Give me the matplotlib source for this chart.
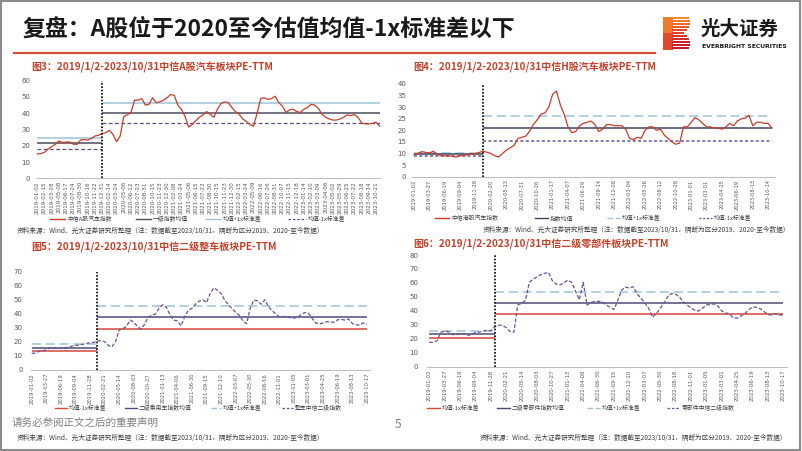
import numpy as np
import matplotlib
matplotlib.use("Agg")
import matplotlib.pyplot as plt
from matplotlib.lines import Line2D
from matplotlib.patches import Rectangle

plt.rcParams['font.family'] = ['Noto Sans CJK SC', 'DejaVu Sans']

# ---------------- DATA ----------------
# Chart 1: 中信A股汽车板块 PE-TTM (samples every half label interval)
c1_labels = ["2019-01-02","2019-02-15","2019-03-28","2019-05-08","2019-06-17","2019-07-24","2019-08-30","2019-10-16",
             "2019-11-22","2019-12-31","2020-02-14","2020-03-24","2020-05-06","2020-06-12","2020-07-23","2020-08-31",
             "2020-10-15","2020-11-23","2020-12-30","2021-02-08","2021-03-24","2021-05-06","2021-06-15","2021-07-22",
             "2021-08-30","2021-10-15","2021-11-23","2021-12-30","2022-02-15","2022-03-24","2022-05-09","2022-06-16",
             "2022-07-26","2022-08-31","2022-10-07","2022-11-15","2022-12-18","2023-01-14","2023-02-10","2023-03-09",
             "2023-04-06","2023-05-02","2023-05-29","2023-06-25","2023-07-22","2023-08-18","2023-09-14","2023-10-21"]
c1_v2019 = [15, 15.2, 16, 18, 19.5, 20.8, 23, 22, 22.3, 22.3, 21, 20.8, 23.5, 23.8, 23.5, 24.5, 26, 26.5]
c1_v2020 = [27.5, 28, 29.5, 27, 22.5, 26, 38, 39, 40.5, 48, 48, 49, 45, 45.5, 49.5, 46.5, 47, 48, 49.5, 51.5,
            51, 45, 42.5, 38, 31.5, 33, 35.5, 37.5, 39, 41, 39.3, 37.5, 42.5, 46, 47, 46.5, 43.5, 41, 39.5, 36.5,
            35, 33, 32, 40, 49, 49.5, 48.5, 49, 50.5, 46.5, 44.5, 40.5, 42, 42.5, 41, 40.5, 42.5, 43.5, 45.5, 45,
            43, 39.5, 37.5, 36.5, 35.8, 35.8, 36.5, 37.5, 39, 38.5, 39.3, 37.5, 34, 33.5, 33.4, 33.8, 34.5, 32]
c1_step = 0.5
c1_mean = [21.5, 40.3]
c1_up = [25.0, 46.5]
c1_dn = [18.2, 33.8]
c1_legend = ["中信A股汽车指数", "一级指数均值", "均值+1x标准差", "均值-1x标准差"]

# Chart 2: 中信H股汽车板块 PE-TTM (samples every quarter label interval)
c2_labels = ["2019-01-02","2019-03-27","2019-06-19","2019-09-04","2019-11-28","2020-02-20","2020-05-13","2020-07-31",
             "2020-10-26","2021-01-17","2021-04-07","2021-06-29","2021-09-14","2021-12-08","2022-03-04","2022-05-26",
             "2022-08-12","2022-10-28","2023-01-01","2023-03-01","2023-04-25","2023-06-19","2023-08-13","2023-10-14"]
c2_v2019 = [9.5, 10, 10.8, 10.5, 10.2, 11, 9.5, 9.2, 9, 9, 8.8, 8.5, 9, 9.3, 9.5, 9.8, 10, 10.5]
c2_v2020 = [11, 10.5, 10, 9, 8.5, 10, 11.5, 12.5, 13.5, 16.5, 17, 17.5, 19.5, 22.5, 24.5, 27, 27.5, 30, 35.5, 37,
            31, 27, 21.5, 19, 19.5, 22, 23, 23.5, 24, 22.5, 19.5, 20.5, 22.5, 22.5, 22, 22, 22, 20.5, 16.5, 16,
            17, 16.5, 20, 21.5, 21.5, 20, 20.5, 18, 16.5, 15, 14, 14.5, 21.5, 21.5, 23.5, 25.5, 24.5, 23, 21.5, 21.5,
            21, 21, 20.5, 21.5, 23, 22, 24, 25, 25.2, 26.5, 22, 23.5, 23.5, 23, 23, 21]
c2_step = 0.25
c2_mean = [9.6, 20.9]
c2_up = [10.3, 26.2]
c2_dn = [8.8, 15.4]
c2_legend = ["中信港股汽车指数", "指数均值", "均值+1x标准差", "均值-1x标准差"]

# Chart 3: 中信二级整车板块 PE-TTM
c3_labels = ["2019-01-02","2019-03-27","2019-06-19","2019-09-04","2019-11-28","2020-02-21","2020-05-14","2020-08-03",
             "2020-10-27","2021-01-13","2021-04-06","2021-06-30","2021-09-15","2021-12-10","2022-03-07","2022-05-30",
             "2022-08-16","2022-11-01","2023-01-05","2023-03-01","2023-04-25","2023-06-19","2023-08-13","2023-10-17"]
c3_v2019 = [11.9, 12, 13.3, 13.5, 14.5, 15.7, 15.4, 15.4, 15.5, 15.7, 16.2, 17, 17.5, 17.8, 18.3, 19, 19.3, 19.7]
c3_v2020 = [20.6, 21, 20.2, 17.5, 16.5, 20, 28.5, 29.4, 31, 35.5, 34.2, 31, 29.2, 32.5, 37.8, 38.8, 40, 44, 46.5, 44.5,
            39.2, 35.5, 35, 31.5, 38, 42.5, 44, 47, 49, 50, 48, 54.5, 58.5, 56.8, 54.5, 49.8, 46.5, 43.8, 41, 39,
            35, 33, 44, 49.8, 49.2, 46.8, 50, 45, 42.2, 40, 37.8, 38, 38.3, 37.3, 37, 37.5, 39.5, 41, 40.3, 36.8,
            33.5, 32.8, 33.5, 34.4, 34.2, 34, 35.8, 36, 35.6, 36.3, 33.2, 32.2, 32, 33.5, 32.5]
c3_step = 0.25
c3_dn = [13.5, 29.2]
c3_mean = [15.9, 37.5]
c3_up = [18.5, 45.8]
c3_legend = ["均值-1x标准差", "二级乘用车指数均值", "均值+1x标准差", "整车中信二级指数"]

# Chart 4: 中信二级零部件板块 PE-TTM
c4_labels = ["2019-01-02","2019-03-27","2019-06-19","2019-09-04","2019-11-28","2020-02-21","2020-05-14","2020-08-03",
             "2020-10-27","2021-01-13","2021-04-08","2021-06-30","2021-09-15","2021-12-10","2022-03-07","2022-05-30",
             "2022-08-18","2022-11-01","2023-01-05","2023-03-01","2023-04-25","2023-06-19","2023-08-13","2023-10-17"]
c4_v2019 = [17.4, 17.5, 18.6, 24.6, 25.5, 25, 23, 23, 23.5, 23.7, 22.5, 23, 24.6, 24.8, 25.6, 26, 25.8]
c4_v2020 = [28.5, 29.8, 29.5, 28, 25.2, 24.8, 44.2, 45.4, 47.5, 60.5, 62.7, 64.3, 66, 66.9, 67.5, 61.5, 59.2, 58.6, 60, 62,
            60.4, 54.2, 48, 60.4, 44.2, 46, 46.7, 46.8, 46.3, 44.3, 42.5, 41, 47.5, 54.9, 57, 56.3, 57.3, 52.2, 49.2, 45.6,
            41.8, 35.5, 38, 41.8, 45.5, 50.2, 52.5, 51.9, 50, 46.5, 44.2, 42.3, 40.4, 39.9, 41.8, 44.2, 44.6, 45, 43.5, 40,
            38.5, 37.8, 35, 34.8, 36.3, 38, 40.8, 42.8, 42.5, 41.5, 39.5, 37.4, 37, 38, 37, 37]
c4_step = 0.25
c4_dn = [20.8, 37.5]
c4_mean = [23.4, 45.9]
c4_up = [25.6, 53.7]
c4_legend = ["均值-1x标准差", "二级零部件指数均值", "均值+1x标准差", "零部件中信二级指数"]

main_title = "复盘：A股位于2020至今估值均值-1x标准差以下"
chart_titles = ["图3：2019/1/2-2023/10/31中信A股汽车板块PE-TTM",
                "图4：2019/1/2-2023/10/31中信H股汽车板块PE-TTM",
                "图5：2019/1/2-2023/10/31中信二级整车板块PE-TTM",
                "图6：2019/1/2-2023/10/31中信二级零部件板块PE-TTM"]
source_text = "资料来源：Wind、光大证券研究所整理（注：数据截至2023/10/31，隔断为区分2019、2020-至今数据）"
footer_text = "请务必参阅正文之后的重要声明"
page_no = "5"

# ---------------- LAYOUT ----------------
W, H = 802, 451
fig = plt.figure(figsize=(W / 100, H / 100), dpi=100)
fig.patch.set_facecolor("white")

def fx(x):
    return x / W

def fy(y):
    return 1 - y / H

RED = "#CC3B28"
TITLE_RED = "#C8402A"
LBLUE = "#9EC4D6"
GRAY_TXT = "#595959"


def make_axes(left, right, top, bottom, x0_px, px_per_label, ymax, ystep, labels, xfs, ypad):
    ax = fig.add_axes([fx(left), fy(bottom), fx(right) - fx(left), fy(top) - fy(bottom)])
    ax.set_xlim((left - x0_px) / px_per_label, (right - x0_px) / px_per_label)
    ax.set_ylim(0, ymax)
    ax.set_yticks(np.arange(0, ymax + 0.1, ystep))
    ax.set_xticks(np.arange(len(labels)))
    ax.set_xticklabels(labels, rotation=90, fontsize=xfs, color=GRAY_TXT, family="DejaVu Sans")
    ax.tick_params(axis="y", length=0, labelsize=5, labelcolor=GRAY_TXT, pad=ypad)
    ax.tick_params(axis="x", length=0, pad=2)
    for s in ["top", "right", "left"]:
        ax.spines[s].set_visible(False)
    ax.spines["bottom"].set_color("#BFBFBF")
    ax.spines["bottom"].set_linewidth(0.8)
    ax.patch.set_alpha(0)
    for t in ax.get_yticklabels():
        t.set_family("DejaVu Sans")
    return ax


def draw_chart(ax, v2019, v2020, step, lines, series_style, ymax):
    vals = np.array(v2019 + v2020, dtype=float)
    x = np.arange(len(vals)) * step
    split = len(v2019) * step
    xend = x[-1]
    for (vv, color, ls, lw) in lines:
        ax.hlines(vv[0], 0, split, colors=color, linestyles=ls, linewidth=lw, zorder=2)
        ax.hlines(vv[1], split, xend, colors=color, linestyles=ls, linewidth=lw, zorder=2)
    color, ls, lw = series_style
    ax.plot(x, vals, color=color, linestyle=ls, linewidth=lw, zorder=3)
    ax.vlines(split, 0, ymax, colors="black", linestyles=(0, (1, 1)), linewidth=1.2, zorder=4)


def legend_item(x0, x1, y, color, ls, lw, label, fs=4.2):
    fig.add_artist(Line2D([fx(x0), fx(x1)], [fy(y), fy(y)], color=color, linestyle=ls, linewidth=lw))
    fig.text(fx(x1 + 2), fy(y), label, fontsize=fs, color="#404040", va="center", ha="left")


# main title & header
fig.text(fx(22), fy(29), main_title, fontsize=16.5, fontweight="bold", color="#1A1A1A", va="center", ha="left")
fig.add_artist(Line2D([fx(14), fx(655)], [fy(53), fy(53)], color="#D2503A", linewidth=1.6))

# logo icon (stylised striped B)
fig.add_artist(Rectangle((fx(663), fy(50)), fx(10), 33 / H, color="#E2482C", linewidth=0))
fig.add_artist(Rectangle((fx(663), fy(33)), fx(10), 16 / H, color="#EF7A2E", linewidth=0))
stripe_w = [26, 27, 27, 26, 24, 21, 24, 26, 27, 27, 26]
grad = ["#F28A2E", "#F07A2C", "#EE6A2C", "#EA5A2C", "#E54B2C", "#E03E2C", "#DA332C", "#D42A2C", "#CE232C", "#C81E2C", "#C21A2C"]
for i, (wdt, c) in enumerate(zip(stripe_w, grad)):
    ytop = 17 + i * 3
    fig.add_artist(Rectangle((fx(672), fy(ytop + 2.2)), fx(wdt - 9), 2.2 / H, color=c, linewidth=0))
fig.text(fx(701), fy(29), "光大证券", fontsize=14, fontweight="bold", color="#1A1A1A", va="center", ha="left")
fig.text(fx(702), fy(46), "EVERBRIGHT SECURITIES", fontsize=4.4, fontweight="bold", color="#1A1A1A",
         va="center", ha="left", family="DejaVu Sans")

# chart titles
fig.text(fx(31), fy(67), chart_titles[0], fontsize=7.2, fontweight="bold", color=TITLE_RED, va="center")
fig.text(fx(413), fy(67), chart_titles[1], fontsize=7.2, fontweight="bold", color=TITLE_RED, va="center")
fig.text(fx(31), fy(247), chart_titles[2], fontsize=7.2, fontweight="bold", color=TITLE_RED, va="center")
fig.text(fx(413), fy(244), chart_titles[3], fontsize=7.2, fontweight="bold", color=TITLE_RED, va="center")

# ---- Chart 1
ax1 = make_axes(36, 380, 80.7, 178.3, 37.3, 7.207, 60, 10, c1_labels, 4.1, 4)
DARK1 = "#4A4D60"
PURP1 = "#5D4B86"
draw_chart(ax1, c1_v2019, c1_v2020, c1_step,
           [(c1_up, LBLUE, "-", 1.1), (c1_mean, DARK1, "-", 1.1), (c1_dn, PURP1, (0, (3, 2)), 0.9)],
           (RED, "-", 0.9), 60)
legend_item(50, 65, 219.3, RED, "-", 1.0, c1_legend[0])
legend_item(136, 151, 219.3, DARK1, "-", 1.0, c1_legend[1])
legend_item(206, 221, 219.3, LBLUE, "-", 1.0, c1_legend[2])
legend_item(288, 306, 219.3, PURP1, (0, (2, 1.5)), 0.9, c1_legend[3])
fig.text(fx(17), fy(231), source_text, fontsize=4.8, color="#404040", va="center", ha="left")

# ---- Chart 2
ax2 = make_axes(411.7, 775, 84, 176.7, 414, 15.4, 40, 5, c2_labels, 3.7, 4)
DARK2 = "#3E4563"
PURP2 = "#6A5A9A"
draw_chart(ax2, c2_v2019, c2_v2020, c2_step,
           [(c2_up, LBLUE, (0, (6, 3)), 1.1), (c2_mean, DARK2, "-", 1.1), (c2_dn, PURP2, (0, (2, 1.5)), 1.1)],
           (RED, "-", 0.9), 40)
legend_item(435, 449, 218.3, RED, "-", 1.0, c2_legend[0])
legend_item(535, 548, 218.3, DARK2, "-", 1.0, c2_legend[1])
legend_item(607, 620, 218.3, LBLUE, (0, (4, 2)), 1.0, c2_legend[2])
legend_item(699, 712, 218.3, PURP2, (0, (1.5, 1.2)), 1.0, c2_legend[3])
fig.text(fx(790), fy(230), source_text, fontsize=4.8, color="#404040", va="center", ha="right")

# ---- Chart 3
ax3 = make_axes(31, 370, 271.7, 370, 31.7, 14.57, 70, 10, c3_labels, 3.8, 6)
DARK3 = "#4B4D7C"
PURP3 = "#6E4F94"
RED3 = "#D9473A"
draw_chart(ax3, c3_v2019, c3_v2020, c3_step,
           [(c3_up, LBLUE, (0, (6, 3)), 1.1), (c3_mean, DARK3, "-", 1.1), (c3_dn, RED3, "-", 1.1)],
           (PURP3, (0, (3, 1.5)), 0.9), 70)
legend_item(55, 67, 407.7, RED3, "-", 1.0, c3_legend[0])
legend_item(125, 137, 407.7, DARK3, "-", 1.0, c3_legend[1])
legend_item(211, 221, 407.7, LBLUE, (0, (4, 2)), 1.0, c3_legend[2])
legend_item(282, 293, 407.7, PURP3, (0, (2, 1.5)), 0.9, c3_legend[3])
fig.text(fx(17), fy(438.3), source_text, fontsize=4.8, color="#404040", va="center", ha="left")

# ---- Chart 4
ax4 = make_axes(426.7, 786.7, 255, 366.7, 429.3, 15.39, 80, 10, c4_labels, 3.9, 6)
DARK4 = "#4B4D7C"
PURP4 = "#6E4F94"
draw_chart(ax4, c4_v2019, c4_v2020, c4_step,
           [(c4_up, LBLUE, (0, (6, 3)), 1.1), (c4_mean, DARK4, "-", 1.1), (c4_dn, RED3, "-", 1.1)],
           (PURP4, (0, (3, 1.5)), 0.9), 80)
legend_item(427, 440, 408.3, RED3, "-", 1.0, c4_legend[0])
legend_item(497, 510, 408.3, DARK4, "-", 1.0, c4_legend[1])
legend_item(587, 600, 408.3, LBLUE, (0, (4, 2)), 1.0, c4_legend[2])
legend_item(667, 680, 408.3, PURP4, (0, (2, 1.5)), 0.9, c4_legend[3])
fig.text(fx(787), fy(438.3), source_text, fontsize=4.8, color="#404040", va="center", ha="right")

# footer
fig.text(fx(12), fy(422.5), footer_text, fontsize=7.6, color="#808080", va="center", ha="left")
fig.text(fx(395), fy(424), page_no, fontsize=8.5, color="#808080", va="center", ha="left")

# slide border
fig.add_artist(Rectangle((0.001, 0.002), 0.997, 0.995, fill=False, edgecolor="#8C8C8C", linewidth=1.5))

fig.savefig("out.png", dpi=100, facecolor="white")
